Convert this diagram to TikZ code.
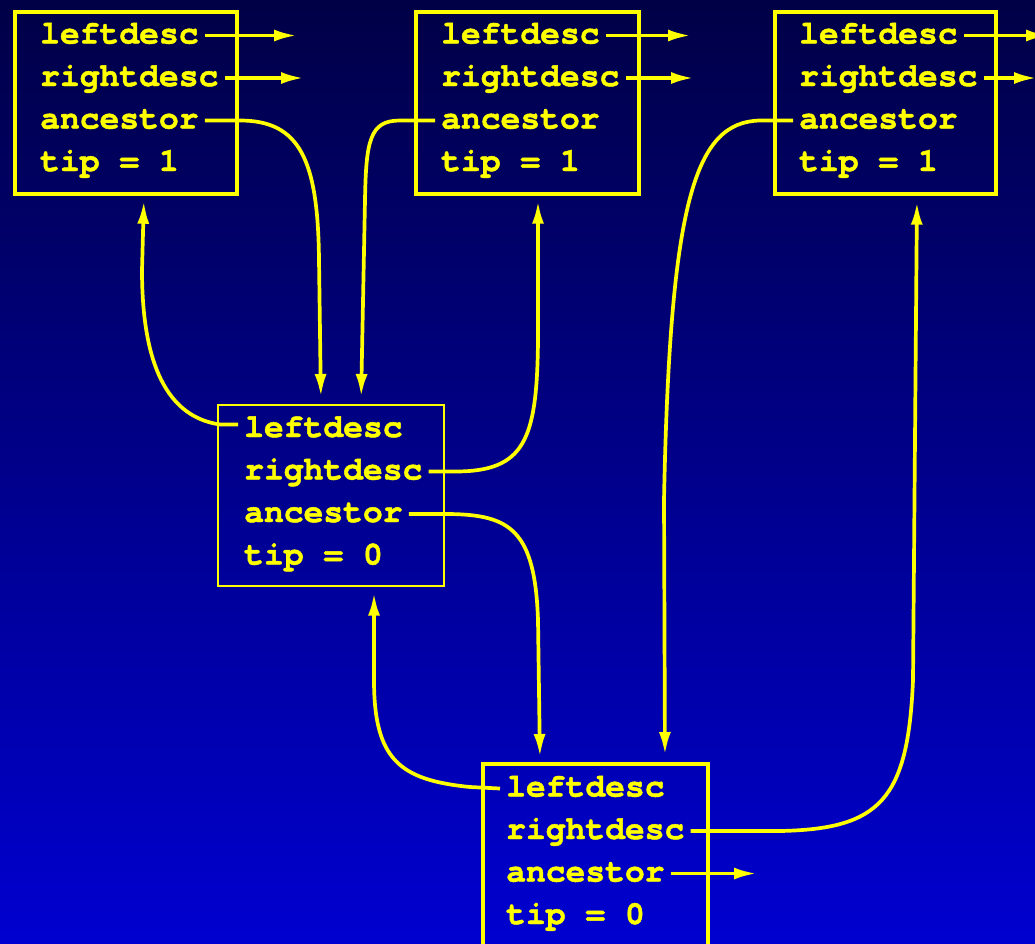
\documentclass[tikz,border=0pt]{standalone}
\usepackage{fontspec}
\newfontfamily\recfont{texgyrecursor-bold}[Extension=.otf, FakeBold=1.4]
\usetikzlibrary{arrows.meta}
\definecolor{bgtop}{RGB}{0,0,70}
\definecolor{bgbot}{RGB}{0,0,208}
\definecolor{ylw}{RGB}{255,255,0}
\tikzset{
  rectxt/.style={anchor=base west, inner xsep=6pt, inner ysep=0pt, text height=22pt, text depth=6pt,
    text=ylw, font=\recfont\fontsize{33}{40}\selectfont},
  recbox/.style={draw=ylw, line width=3.7pt, anchor=north west, inner sep=0pt},
  thinbox/.style={draw=ylw, line width=1.6pt, anchor=north west, inner sep=0pt},
  arr/.style={draw=ylw, line width=3.7pt, -{Latex[length=23pt,width=12pt]}},
}
\newcommand\mkrecord[4]{%
  \node[rectxt] (#1-l) at (#2,#3) {leftdesc};
  \node[rectxt] (#1-r) at (#2,#3+42.5) {rightdesc};
  \node[rectxt] (#1-a) at (#2,#3+85) {ancestor};
  \node[rectxt] (#1-t) at (#2,#3+127.5) {tip = #4};
}
\begin{document}
\begin{tikzpicture}[x=1pt,y=-1pt]
\useasboundingbox (0,0) rectangle (1035,943);
\clip (0,0) rectangle (1035,943);
\shade[top color=bgtop, bottom color=bgbot] (0,0) rectangle (1035,943);

% boxes
\node[recbox, minimum width=222pt, minimum height=182pt] (A) at (13,10) {};
\node[recbox, minimum width=223pt, minimum height=182pt] (B) at (414,10) {};
\node[recbox, minimum width=221pt, minimum height=182pt] (C) at (773,10) {};
\node[thinbox, minimum width=226pt, minimum height=181pt] (D) at (217,404) {};
\node[recbox, minimum width=225pt, minimum height=200pt] (E) at (481,762) {};

% texts
\mkrecord{A}{34}{43.5}{1}
\mkrecord{B}{435}{43.5}{1}
\mkrecord{C}{793}{43.5}{1}
\mkrecord{D}{238}{437}{0}
\mkrecord{E}{500}{796.5}{0}

% free ends
\coordinate (eAl) at (297,0);
\coordinate (eAr) at (304,0);
\coordinate (eBl) at (691,0);
\coordinate (eBr) at (694,0);
\coordinate (eCl) at (1049,0);
\coordinate (eCr) at (1037,0);
\coordinate (eEa) at (757,0);

\draw[arr] (A-l.east) -- (A-l.east -| eAl);
\draw[arr] (A-r.east) -- (A-r.east -| eAr);
\draw[arr] (B-l.east) -- (B-l.east -| eBl);
\draw[arr] (B-r.east) -- (B-r.east -| eBr);
\draw[arr] (C-l.east) -- (C-l.east -| eCl);
\draw[arr] (C-r.east) -- (C-r.east -| eCr);
\draw[arr] (E-a.east) -- (E-a.east -| eEa);

% curved links
\draw[arr, shorten >=7pt] (A-a.east) -- (240,120.5) .. controls (300,120.5) and (318,160) .. (319,260) -- (321,0 |- D.north);
\draw[arr, shorten >=7pt] (B-a.west) -- (400,120.5) .. controls (370,120.5) and (366,140) .. (365,200) -- (361,0 |- D.north);
\draw[arr, shorten >=5pt] ([yshift=4.5pt]D-l.west) -- (220,424.5) .. controls (160,416) and (142,350) .. (142,270) -- (144,0 |- A.south);
\draw[arr, shorten >=5pt] (D-r.east) -- (455,471.5) .. controls (525,471.5) and (537,440) .. (538,340) -- (538,0 |- B.south);
\draw[arr, shorten >=7pt] (C-a.west) -- (760,120.5) .. controls (695,122) and (670,200) .. (664,500) -- (665,0 |- E.north);
\draw[arr, shorten >=5pt] (D-a.east) -- (450,514) .. controls (510,515) and (535,530) .. (538,620) -- (540,0 |- E.north);
\draw[arr, shorten >=6pt] (E-l.west) -- (470,787) .. controls (400,780) and (374,760) .. (374,680) -- (374,0 |- D.south);
\draw[arr, shorten >=6pt] (E-r.east) -- (780,831) .. controls (880,829) and (908,800) .. (913,680) -- (917,0 |- C.south);
\end{tikzpicture}
\end{document}
